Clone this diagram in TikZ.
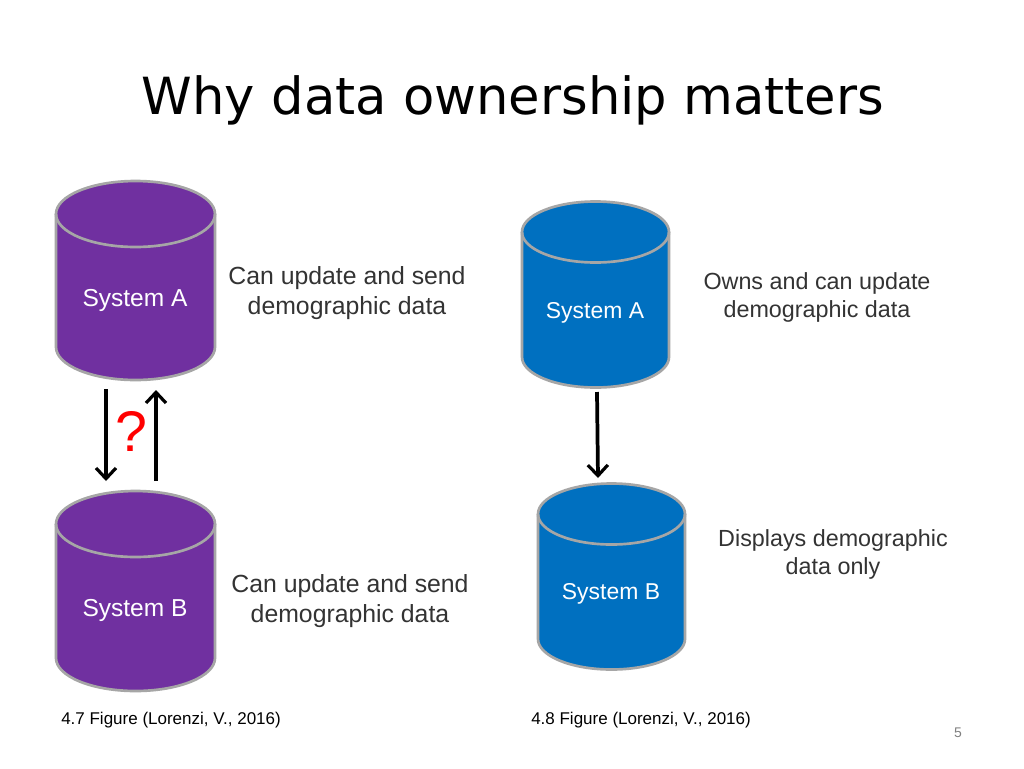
\documentclass[tikz,border=0pt]{standalone}
\usepackage{fontspec}
\setmainfont{Liberation Sans}
\newfontfamily\titlefont{DejaVu Sans}
\usetikzlibrary{arrows.meta}
\definecolor{purp}{HTML}{7030A0}
\definecolor{blu}{HTML}{0070C0}
\definecolor{edge}{HTML}{A6A6A6}
\newcommand{\cyl}[6]{% name, cx, top y, bottom y, rx, color  (px, y down)
  \fill[#6,draw=edge,line width=2pt] (#2-#5,-#3) -- (#2-#5,-#4) arc[start angle=180,end angle=360,x radius=#5,y radius=#5*0.415] -- (#2+#5,-#3) arc[start angle=0,end angle=180,x radius=#5,y radius=#5*0.415] -- cycle;
  \draw[edge,line width=2pt] (#2-#5,-#3) arc[start angle=180,end angle=360,x radius=#5,y radius=#5*0.415];
  \coordinate (#1) at (#2,-#3);
}
\tikzset{x=0.75pt,y=0.75pt,
 lab/.style={font=\fontsize{18.6}{22.5}\selectfont,text=black!80,align=center,inner sep=0pt},
 labr/.style={font=\fontsize{17.5}{21}\selectfont,text=black!80,align=center,inner sep=0pt},
 sys/.style={font=\fontsize{18.4}{20}\selectfont,text=white,inner sep=0pt},
 sysr/.style={font=\fontsize{17.2}{20}\selectfont,text=white,inner sep=0pt},
 captext/.style={font=\fontsize{12.75}{15}\selectfont,text=black,inner sep=0pt,anchor=west},
 arr/.style={-{Straight Barb[length=8pt,width=15pt,line width=2.4pt]},line width=2.8pt,black}}
\begin{document}
\begin{tikzpicture}
\useasboundingbox (0,0) rectangle (1024,-768);
\fill[white] (0,0) rectangle (1024,-768);
\node[inner sep=0pt,anchor=center,font=\titlefont\fontsize{38.4}{46}\selectfont] (title) at (513,-100) {Why data ownership matters};
\cyl{a1}{135.5}{214}{347}{79.5}{purp}
\cyl{b1}{135.5}{524}{658}{79.5}{purp}
\cyl{a2}{595.5}{232}{357}{73.5}{blu}
\cyl{b2}{611.5}{514}{639}{73.5}{blu}
\node[sys] (sa1) at (135,-300) {System A};
\node[sys] (sb1) at (135,-610) {System B};
\node[sysr] (sa2) at (595,-313) {System A};
\node[sysr] (sb2) at (611,-594) {System B};
\node[lab] (l1) at (347,-293) {Can update and send\\demographic data};
\node[lab] (l2) at (350,-601) {Can update and send\\demographic data};
\node[labr] (l3) at (817,-297) {Owns and can update\\demographic data};
\node[labr] (l4) at (833,-554) {Displays demographic\\data only};
\coordinate (p1) at (106,-389); \coordinate (p2) at (106,-481);
\coordinate (p3) at (156,-481); \coordinate (p4) at (156,-390);
\coordinate (p5) at (597,-392); \coordinate (p6) at (598,-478);
\draw[arr] (p1) -- (p2);
\draw[arr] (p3) -- (p4);
\draw[arr] (p5) -- (p6);
\node[inner sep=0pt,text=red,font=\fontsize{43}{50}\selectfont] (q) at (131,-431) {?};
\node[captext] (c1) at (61,-720) {4.7 Figure (Lorenzi, V., 2016)};
\node[captext] (c2) at (531,-720) {4.8 Figure (Lorenzi, V., 2016)};
\node[inner sep=0pt,text=black!50,font=\fontsize{10.5}{12}\selectfont] (n) at (958,-733) {5};
\end{tikzpicture}
\end{document}
